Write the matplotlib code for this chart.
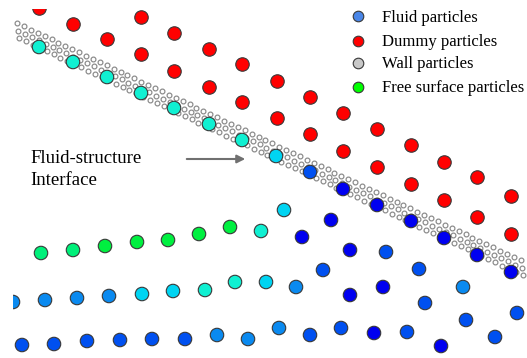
import numpy as np
import matplotlib
matplotlib.use("Agg")
from matplotlib import pyplot as plt

# picture is in pixel units: x to the right, y downwards
W, H = 527, 358

# colour levels of the fluid particles (slow -> fast)
level_colors = ['#0000f0', '#0050f0', '#0a8af0', '#00d4f2', '#10f0d2', '#00f07a', '#00f040']

# fluid particles: x, y, colour level
fluid_x = [39, 73, 107, 141, 174, 209, 242,
           276, 310, 343, 377, 411, 444, 477, 511,
           41, 73, 105, 137, 168, 199, 230, 261,
           13, 45, 77, 109, 142, 173, 205, 235, 266,
           22, 54, 87, 120, 152, 185, 217, 248, 279, 310, 341, 374, 407, 441, 466, 495, 517,
           284, 331, 302, 350, 386, 323, 419, 296, 350, 383, 425, 463]
fluid_y = [47, 62, 77, 93, 108, 124, 140,
           156, 172, 189, 205, 221, 238, 255, 272,
           253, 250, 246, 242, 240, 234, 227, 231,
           302, 300, 298, 296, 294, 291, 290, 282, 282,
           345, 344, 341, 340, 339, 339, 335, 339, 328, 335, 328, 333, 332, 346, 320, 337, 313,
           210, 220, 237, 250, 252, 270, 269, 287, 295, 287, 303, 287]
fluid_level = [4, 4, 4, 4, 4, 4, 4,
               3, 1, 0, 0, 0, 0, 0, 0,
               5, 5, 6, 6, 6, 6, 6, 4,
               2, 2, 2, 2, 3, 3, 4, 4, 3,
               1, 1, 1, 1, 1, 1, 2, 2, 2, 1, 1, 0, 1, 0, 1, 1, 1,
               3, 0, 0, 0, 1, 1, 1, 2, 0, 0, 1, 2]

# dummy particles behind the wall
dummy_x = [39, 73, 107, 141, 141, 174, 174, 209, 209, 242, 242, 277, 277,
           310, 310, 343, 343, 377, 377, 411, 411, 444, 444, 477, 477, 511, 511]
dummy_y = [8, 24, 39, 17, 54, 33, 71, 49, 87, 64, 102, 81, 118,
           97, 134, 113, 151, 129, 167, 145, 184, 162, 200, 177, 217, 196, 234]

# wall particles: three rows, start point of each row, spacing along the row
wall_row_x0 = [17, 18, 19]
wall_row_y0 = [23, 30.5, 38]
wall_dx, wall_dy = 6.9, 3.25
wall_count = 74

legend_labels = ['Fluid particles', 'Dummy particles', 'Wall particles', 'Free surface particles']
legend_colors = ['#4a86e8', '#ff0000', '#c8c8c8', '#00ff00']
legend_y = [16, 41, 63, 87]

fig = plt.figure(figsize=(W / 100, H / 100), dpi=100)
ax = fig.add_axes([13 / W, 0, (W - 13) / W, (H - 9) / H])
ax.set_xlim(13, W)
ax.set_ylim(H, 9)
ax.axis('off')

# wall
wx, wy = [], []
for x0, y0 in zip(wall_row_x0, wall_row_y0):
    idx = np.arange(wall_count)
    wx.extend(x0 + idx * wall_dx)
    wy.extend(y0 + idx * wall_dy)
ax.scatter(wx, wy, s=12, facecolor='white', edgecolor='#888888', linewidths=0.85, zorder=2)

ax.scatter(dummy_x, dummy_y, s=94, color='#ff0000', edgecolor='#383838', linewidths=0.8, zorder=3)
fcols = [level_colors[l] for l in fluid_level]
ax.scatter(fluid_x, fluid_y, s=94, c=fcols, edgecolor='#383838', linewidths=0.8, zorder=3)

# legend drawn by hand
for lab, col, y in zip(legend_labels, legend_colors, legend_y):
    ax.scatter([358], [y], s=58, color=col, edgecolor='#383838', linewidths=0.8, zorder=4, clip_on=False)
    ax.text(382, y + 5.5, lab, fontsize=12, family='Liberation Serif', va='baseline', ha='left')

# interface label and arrow
ax.text(30, 163, 'Fluid-structure', fontsize=13.5, family='Liberation Serif', va='baseline')
ax.text(30, 185, 'Interface', fontsize=13.5, family='Liberation Serif', va='baseline')
ax.annotate('', xy=(248, 159), xytext=(184, 159),
            arrowprops=dict(arrowstyle='-|>', color='#707070', lw=1.5, mutation_scale=12))

fig.savefig('out.png', dpi=100)
